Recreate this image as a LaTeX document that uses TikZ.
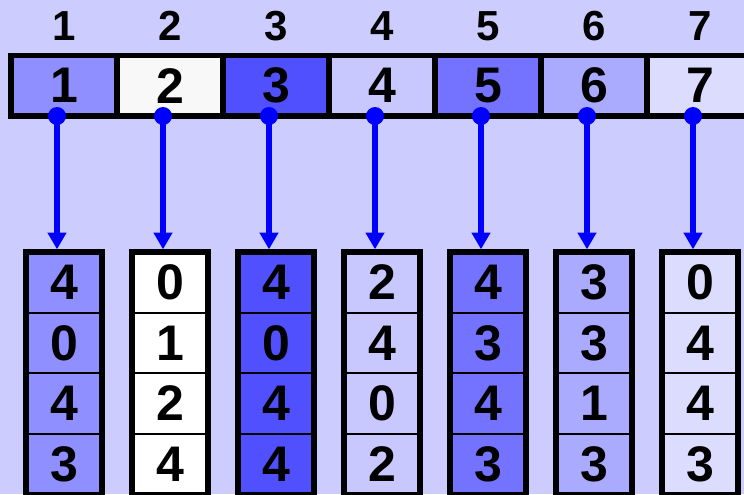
\documentclass[tikz,border=0pt]{standalone}
\usepackage{fontspec}
\setmainfont{Liberation Sans}
\usetikzlibrary{arrows.meta}

\definecolor{bgblue}{HTML}{CCCCFF}
\definecolor{ptrblue}{HTML}{0000FF}
\definecolor{shadeA}{HTML}{8F8FFF}
\definecolor{shadeB}{HTML}{F8F8F8}
\definecolor{shadeC}{HTML}{5050FF}
\definecolor{shadeD}{HTML}{C8C8FF}
\definecolor{shadeE}{HTML}{7373FF}
\definecolor{shadeF}{HTML}{AAAAFF}
\definecolor{shadeG}{HTML}{DCDCFF}

\tikzset{
  toplabel/.style={inner sep=0pt, font=\fontsize{31.5}{31.5}\selectfont\bfseries},
  barcell/.style={draw=black, line width=4.2pt, inner sep=0pt, outer sep=0pt,
    minimum width=79.5pt, minimum height=45.4pt, font=\fontsize{37.5}{37.5}\selectfont\bfseries},
  colcell/.style={draw=black, line width=1.5pt, inner sep=0pt, outer sep=0pt,
    minimum width=57pt, minimum height=45.45pt, font=\fontsize{37.5}{37.5}\selectfont\bfseries},
  colframe/.style={draw=black, line width=4.2pt},
  ptr/.style={draw=ptrblue, line width=3.8pt, -{Triangle[length=12.5pt,width=13.5pt]}, shorten >=2pt},
  ptrdot/.style={fill=ptrblue}
}

\begin{document}
\begin{tikzpicture}[x=0.75pt, y=-0.75pt]
  \fill[bgblue] (0,0) rectangle (744,494);
  \useasboundingbox (0,0) rectangle (744,494);
  \clip (0,0) rectangle (744,494);
  %
  % index row and the bar of cells
  \foreach \i/\bf/\cf/\vals in {1/shadeA/shadeA/{4,0,4,3}, 2/shadeB/white/{0,1,2,4},
      3/shadeC/shadeC/{4,0,4,4}, 4/shadeD/shadeD/{2,4,0,2}, 5/shadeE/shadeE/{4,3,4,3},
      6/shadeF/shadeF/{3,3,1,3}, 7/shadeG/shadeG/{0,4,4,3}}
  {
    \pgfmathsetmacro\cx{64+106*(\i-1)}
    \node[toplabel] (lbl\i) at (\cx,26) {\i};
    \node[barcell, fill=\bf] (bar\i) at (\cx,85.75) {\i};
    %
    % column of values under each cell
    \foreach \v [count=\j] in \vals {
      \pgfmathsetmacro\cy{252+60.6*(\j-0.5)}
      \node[colcell, fill=\cf] (col\i-\j) at (\cx,\cy) {\v};
    }
    \draw[colframe] (col\i-1.north west) rectangle (col\i-4.south east);
  }
  %
  % pointers
  \foreach \i in {1,...,7} {
    \fill[ptrdot] ([xshift=-5.25pt]bar\i.south) circle (6.75pt);
    \draw[ptr] ([xshift=-5.25pt]bar\i.south) -- ([xshift=-5.25pt]col\i-1.north);
  }
\end{tikzpicture}
\end{document}
